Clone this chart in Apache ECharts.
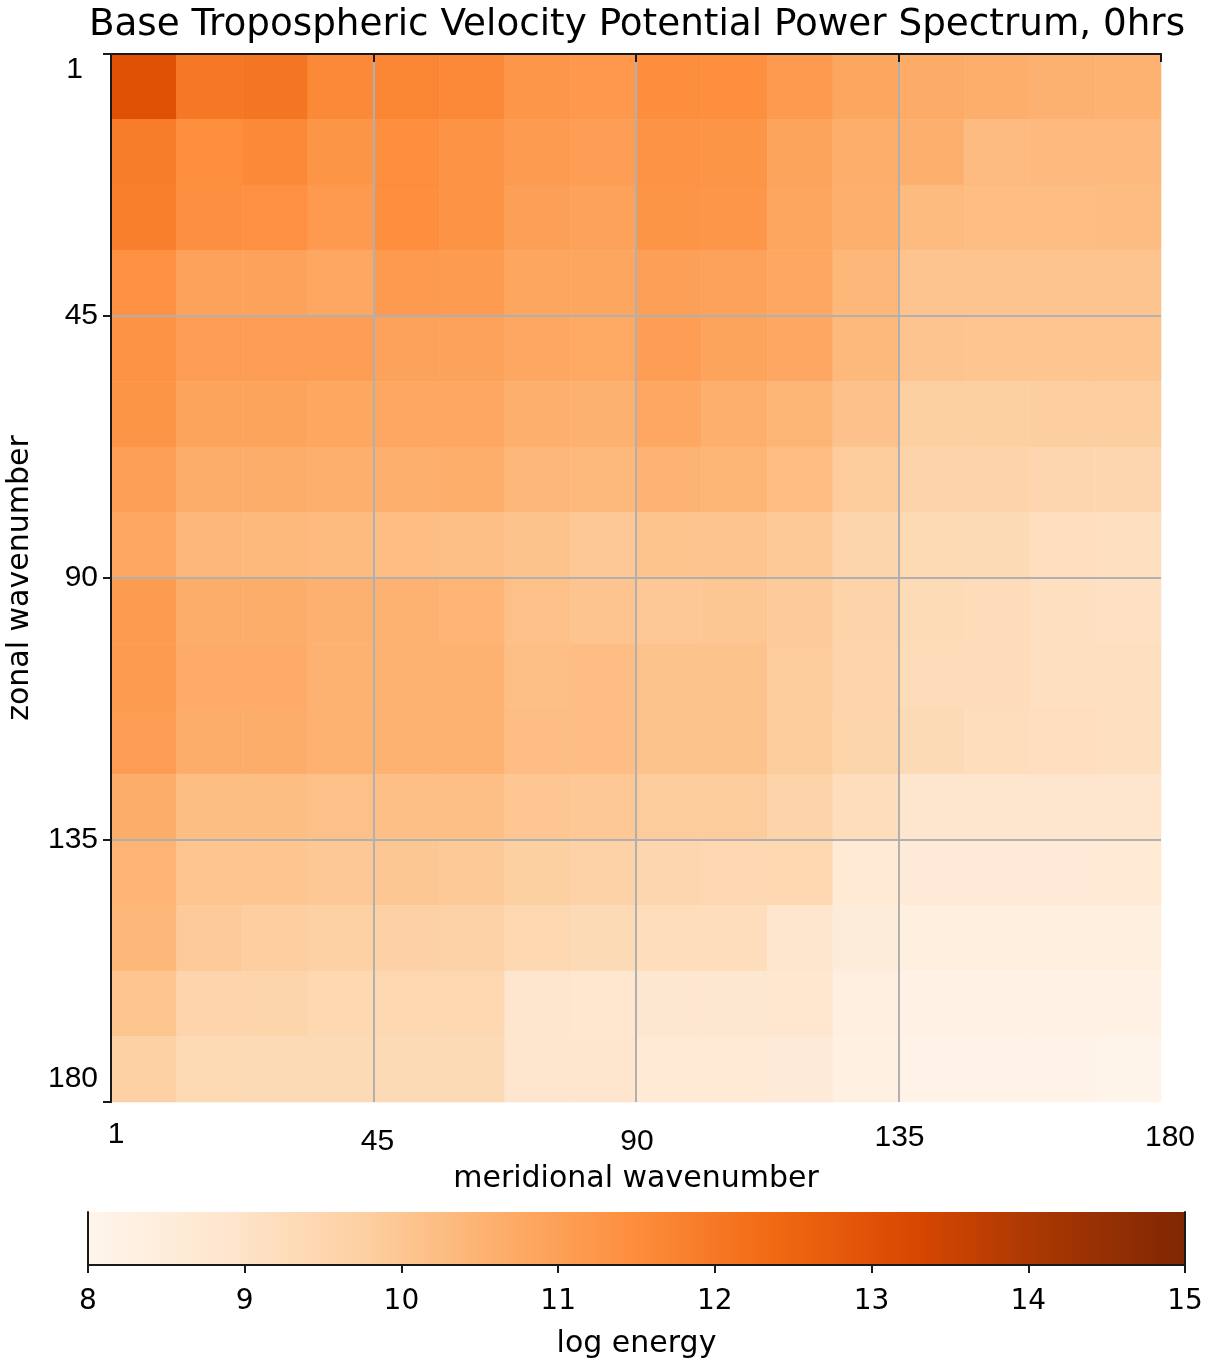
<!DOCTYPE html>
<html>
<head>
<meta charset="utf-8">
<script src="https://cdn.jsdelivr.net/npm/echarts@6/dist/echarts.min.js"></script>
<style>html,body{margin:0;padding:0;background:#fff;}#c{width:1212px;height:1363px;}</style>
</head>
<body>
<div id="c"></div>
<script>
// bin starts (wavenumber units) for the 16x16 spectral cells
const binSize = 11.25;
const meridionalBins = [0, 11.25, 22.5, 33.75, 45, 56.25, 67.5, 78.75, 90, 101.25, 112.5, 123.75, 135, 146.25, 157.5, 168.75];
const zonalBins = [0, 11.25, 22.5, 33.75, 45, 56.25, 67.5, 78.75, 90, 101.25, 112.5, 123.75, 135, 146.25, 157.5, 168.75];
const axisTicks = [0, 45, 90, 135, 180];
const colorbarTicks = [8, 9, 10, 11, 12, 13, 14, 15];
// log energy, one row per zonal bin (top to bottom), columns by meridional bin
const energyRows = [
  [13.00, 12.00, 12.05, 11.60, 11.70, 11.60, 11.25, 11.20, 11.47, 11.45, 11.15, 10.85, 10.68, 10.62, 10.55, 10.52],
  [11.90, 11.45, 11.60, 11.30, 11.45, 11.35, 11.10, 11.05, 11.35, 11.30, 10.90, 10.62, 10.57, 10.28, 10.33, 10.33],
  [11.85, 11.42, 11.40, 11.15, 11.45, 11.35, 11.00, 10.95, 11.30, 11.25, 10.85, 10.57, 10.30, 10.25, 10.25, 10.27],
  [11.40, 10.95, 10.95, 10.80, 11.15, 11.12, 10.85, 10.85, 11.00, 10.95, 10.80, 10.40, 10.05, 10.05, 10.05, 10.06],
  [11.35, 11.08, 11.08, 11.05, 10.95, 10.95, 10.80, 10.75, 11.05, 10.90, 10.80, 10.37, 10.05, 10.03, 10.03, 10.03],
  [11.30, 10.90, 10.90, 10.82, 10.80, 10.80, 10.58, 10.55, 10.80, 10.60, 10.45, 10.10, 9.75, 9.75, 9.78, 9.78],
  [11.00, 10.65, 10.65, 10.60, 10.60, 10.62, 10.40, 10.37, 10.50, 10.45, 10.25, 9.85, 9.60, 9.60, 9.50, 9.50],
  [10.80, 10.40, 10.35, 10.30, 10.25, 10.20, 10.08, 9.95, 10.07, 10.05, 9.92, 9.55, 9.40, 9.35, 9.20, 9.17],
  [11.10, 10.65, 10.65, 10.55, 10.52, 10.47, 10.15, 10.05, 9.95, 9.98, 9.88, 9.60, 9.33, 9.30, 9.17, 9.10],
  [11.10, 10.70, 10.70, 10.52, 10.52, 10.52, 10.20, 10.23, 10.08, 10.08, 9.85, 9.58, 9.30, 9.30, 9.15, 9.15],
  [11.08, 10.65, 10.65, 10.52, 10.52, 10.52, 10.23, 10.23, 10.08, 10.08, 9.85, 9.57, 9.35, 9.22, 9.20, 9.15],
  [10.65, 10.22, 10.22, 10.17, 10.20, 10.20, 10.00, 9.95, 9.85, 9.85, 9.62, 9.22, 8.90, 8.90, 8.90, 8.90],
  [10.47, 10.04, 10.04, 9.96, 9.97, 9.92, 9.75, 9.68, 9.50, 9.42, 9.45, 8.65, 8.62, 8.62, 8.62, 8.65],
  [10.40, 9.87, 9.78, 9.72, 9.70, 9.67, 9.47, 9.35, 9.25, 9.22, 8.90, 8.50, 8.35, 8.35, 8.35, 8.35],
  [10.04, 9.58, 9.57, 9.45, 9.48, 9.48, 8.90, 8.85, 8.80, 8.80, 8.85, 8.33, 8.17, 8.17, 8.17, 8.17],
  [9.72, 9.40, 9.35, 9.35, 9.35, 9.35, 8.88, 8.88, 8.65, 8.65, 8.60, 8.28, 8.10, 8.10, 8.10, 8.05]
];
const orangesStops = ['#fff5eb', '#fee6ce', '#fdd0a2', '#fdae6b', '#fd8d3c', '#f16913', '#d94801', '#a63603', '#7f2704'];

const cells = [];
zonalBins.forEach((zy, r) => {
  meridionalBins.forEach((mx, c) => {
    cells.push([mx, zy, energyRows[r][c]]);
  });
});

const chart = echarts.init(document.getElementById('c'), null, {renderer: 'canvas'});
const border = {show: true, lineStyle: {color: '#1a1a1a', width: 2}};
const tickFont = 'Liberation Sans';
const nameFont = 'DejaVu Sans';
const tf = (extra) => Object.assign({fontFamily: tickFont, fontSize: 30, color: '#000'}, extra || {});

const option = {
  backgroundColor: '#ffffff',
  animation: false,
  title: {
    text: 'Base Tropospheric Velocity Potential Power Spectrum, 0hrs',
    left: 632, textAlign: 'center', top: 2,
    textStyle: {fontFamily: nameFont, fontSize: 37.3, fontWeight: 'normal', color: '#000'}
  },
  grid: [
    {left: 111, top: 54, width: 1050, height: 1048, containLabel: false, outerBoundsMode: 'none'},
    {left: 88, top: 1212, width: 1097, height: 53, containLabel: false, outerBoundsMode: 'none'}
  ],
  visualMap: {
    type: 'continuous', show: false, min: 8, max: 15, dimension: 2, seriesIndex: 0,
    inRange: {color: orangesStops}
  },
  xAxis: [
    {
      gridIndex: 0, type: 'value', min: axisTicks[0], max: axisTicks[4], interval: 45, position: 'bottom', z: 10,
      axisLine: border,
      axisTick: {show: true, length: 8, lineStyle: {color: '#1a1a1a', width: 2}},
      axisLabel: {
        margin: 18, fontFamily: tickFont, fontSize: 30, color: '#000',
        formatter: v => v === 0 ? '{a|1}' : v === 45 ? '{b|45}' : v === 90 ? '{d|90}' : v === 180 ? '{e|180}' : '{c|' + v + '}',
        rich: {
          a: tf({padding: [0, 0, 0, 10]}),
          b: tf({padding: [7, 0, 0, 8]}),
          d: tf({padding: [7, 0, 0, 2]}),
          c: tf({padding: [3, 0, 0, 2]}),
          e: tf({padding: [3, 0, 0, 18]})
        }
      },
      splitLine: {show: true, showMinLine: false, showMaxLine: false, lineStyle: {color: '#b0b0b0', width: 2}},
      name: 'meridional wavenumber', nameLocation: 'middle', nameGap: 62,
      nameTextStyle: {fontFamily: nameFont, fontSize: 30, color: '#000'}
    },
    {
      gridIndex: 0, type: 'value', min: 0, max: 180, interval: 45, position: 'top', z: 10,
      axisLine: border, axisTick: {show: false}, axisLabel: {show: false}, splitLine: {show: false}
    },
    {
      gridIndex: 1, type: 'value', min: colorbarTicks[0], max: colorbarTicks[7], interval: 1, position: 'bottom', z: 10,
      axisLine: border,
      axisTick: {show: true, length: 8, lineStyle: {color: '#1a1a1a', width: 2}},
      axisLabel: {margin: 23, fontFamily: nameFont, fontSize: 28, color: '#000'},
      splitLine: {show: false},
      name: 'log energy', nameLocation: 'middle', nameGap: 64,
      nameTextStyle: {fontFamily: nameFont, fontSize: 30, color: '#000'}
    },
    {
      gridIndex: 1, type: 'value', min: 8, max: 15, position: 'top', z: 10,
      axisLine: border, axisTick: {show: false}, axisLabel: {show: false}, splitLine: {show: false}
    }
  ],
  yAxis: [
    {
      gridIndex: 0, type: 'value', min: axisTicks[0], max: axisTicks[4], interval: 45, inverse: true, position: 'left', z: 10,
      axisLine: border,
      axisTick: {show: true, length: 8, lineStyle: {color: '#1a1a1a', width: 2}},
      axisLabel: {
        margin: 13, fontFamily: tickFont, fontSize: 30, color: '#000',
        formatter: v => v === 0 ? '{a|1}' : v === 180 ? '{b|180}' : '{c|' + v + '}',
        rich: {
          a: tf({padding: [32, 15, 0, 0]}),
          b: tf({padding: [0, 0, 46, 0]}),
          c: tf()
        }
      },
      splitLine: {show: true, showMinLine: false, showMaxLine: false, lineStyle: {color: '#b0b0b0', width: 2}},
      name: 'zonal wavenumber', nameLocation: 'middle', nameGap: 76, nameRotate: 90,
      nameTextStyle: {fontFamily: nameFont, fontSize: 30, color: '#000'}
    },
    {
      gridIndex: 0, type: 'value', min: 0, max: 180, inverse: true, position: 'right', z: 10,
      axisLine: border, axisTick: {show: false}, axisLabel: {show: false}, splitLine: {show: false}
    },
    {
      gridIndex: 1, type: 'value', min: 0, max: 1, position: 'left', z: 10,
      axisLine: border, axisTick: {show: false}, axisLabel: {show: false}, splitLine: {show: false}
    },
    {
      gridIndex: 1, type: 'value', min: 0, max: 1, position: 'right', z: 10,
      axisLine: border, axisTick: {show: false}, axisLabel: {show: false}, splitLine: {show: false}
    }
  ],
  series: [
    {
      type: 'custom', xAxisIndex: 0, yAxisIndex: 0, data: cells,
      encode: {x: 0, y: 1},
      renderItem: (params, api) => {
        const x0 = api.value(0), y0 = api.value(1);
        const p0 = api.coord([x0, y0]);
        const p1 = api.coord([x0 + binSize, y0 + binSize]);
        const color = api.visual('color');
        return {
          type: 'rect',
          shape: {x: Math.min(p0[0], p1[0]), y: Math.min(p0[1], p1[1]), width: Math.abs(p1[0] - p0[0]), height: Math.abs(p1[1] - p0[1])},
          style: {fill: color, stroke: color, lineWidth: 0.6}
        };
      }
    },
    {
      type: 'custom', xAxisIndex: 2, yAxisIndex: 2, data: [[colorbarTicks[0], colorbarTicks[colorbarTicks.length - 1]]],
      renderItem: (params, api) => {
        const p0 = api.coord([api.value(0), 1]);
        const p1 = api.coord([api.value(1), 0]);
        return {
          type: 'rect',
          shape: {x: p0[0], y: p0[1], width: p1[0] - p0[0], height: p1[1] - p0[1]},
          style: {
            fill: {
              type: 'linear', x: 0, y: 0, x2: 1, y2: 0,
              colorStops: orangesStops.map((c, i) => ({offset: i / (orangesStops.length - 1), color: c}))
            }
          }
        };
      }
    }
  ]
};
chart.setOption(option);
</script>
</body>
</html>
